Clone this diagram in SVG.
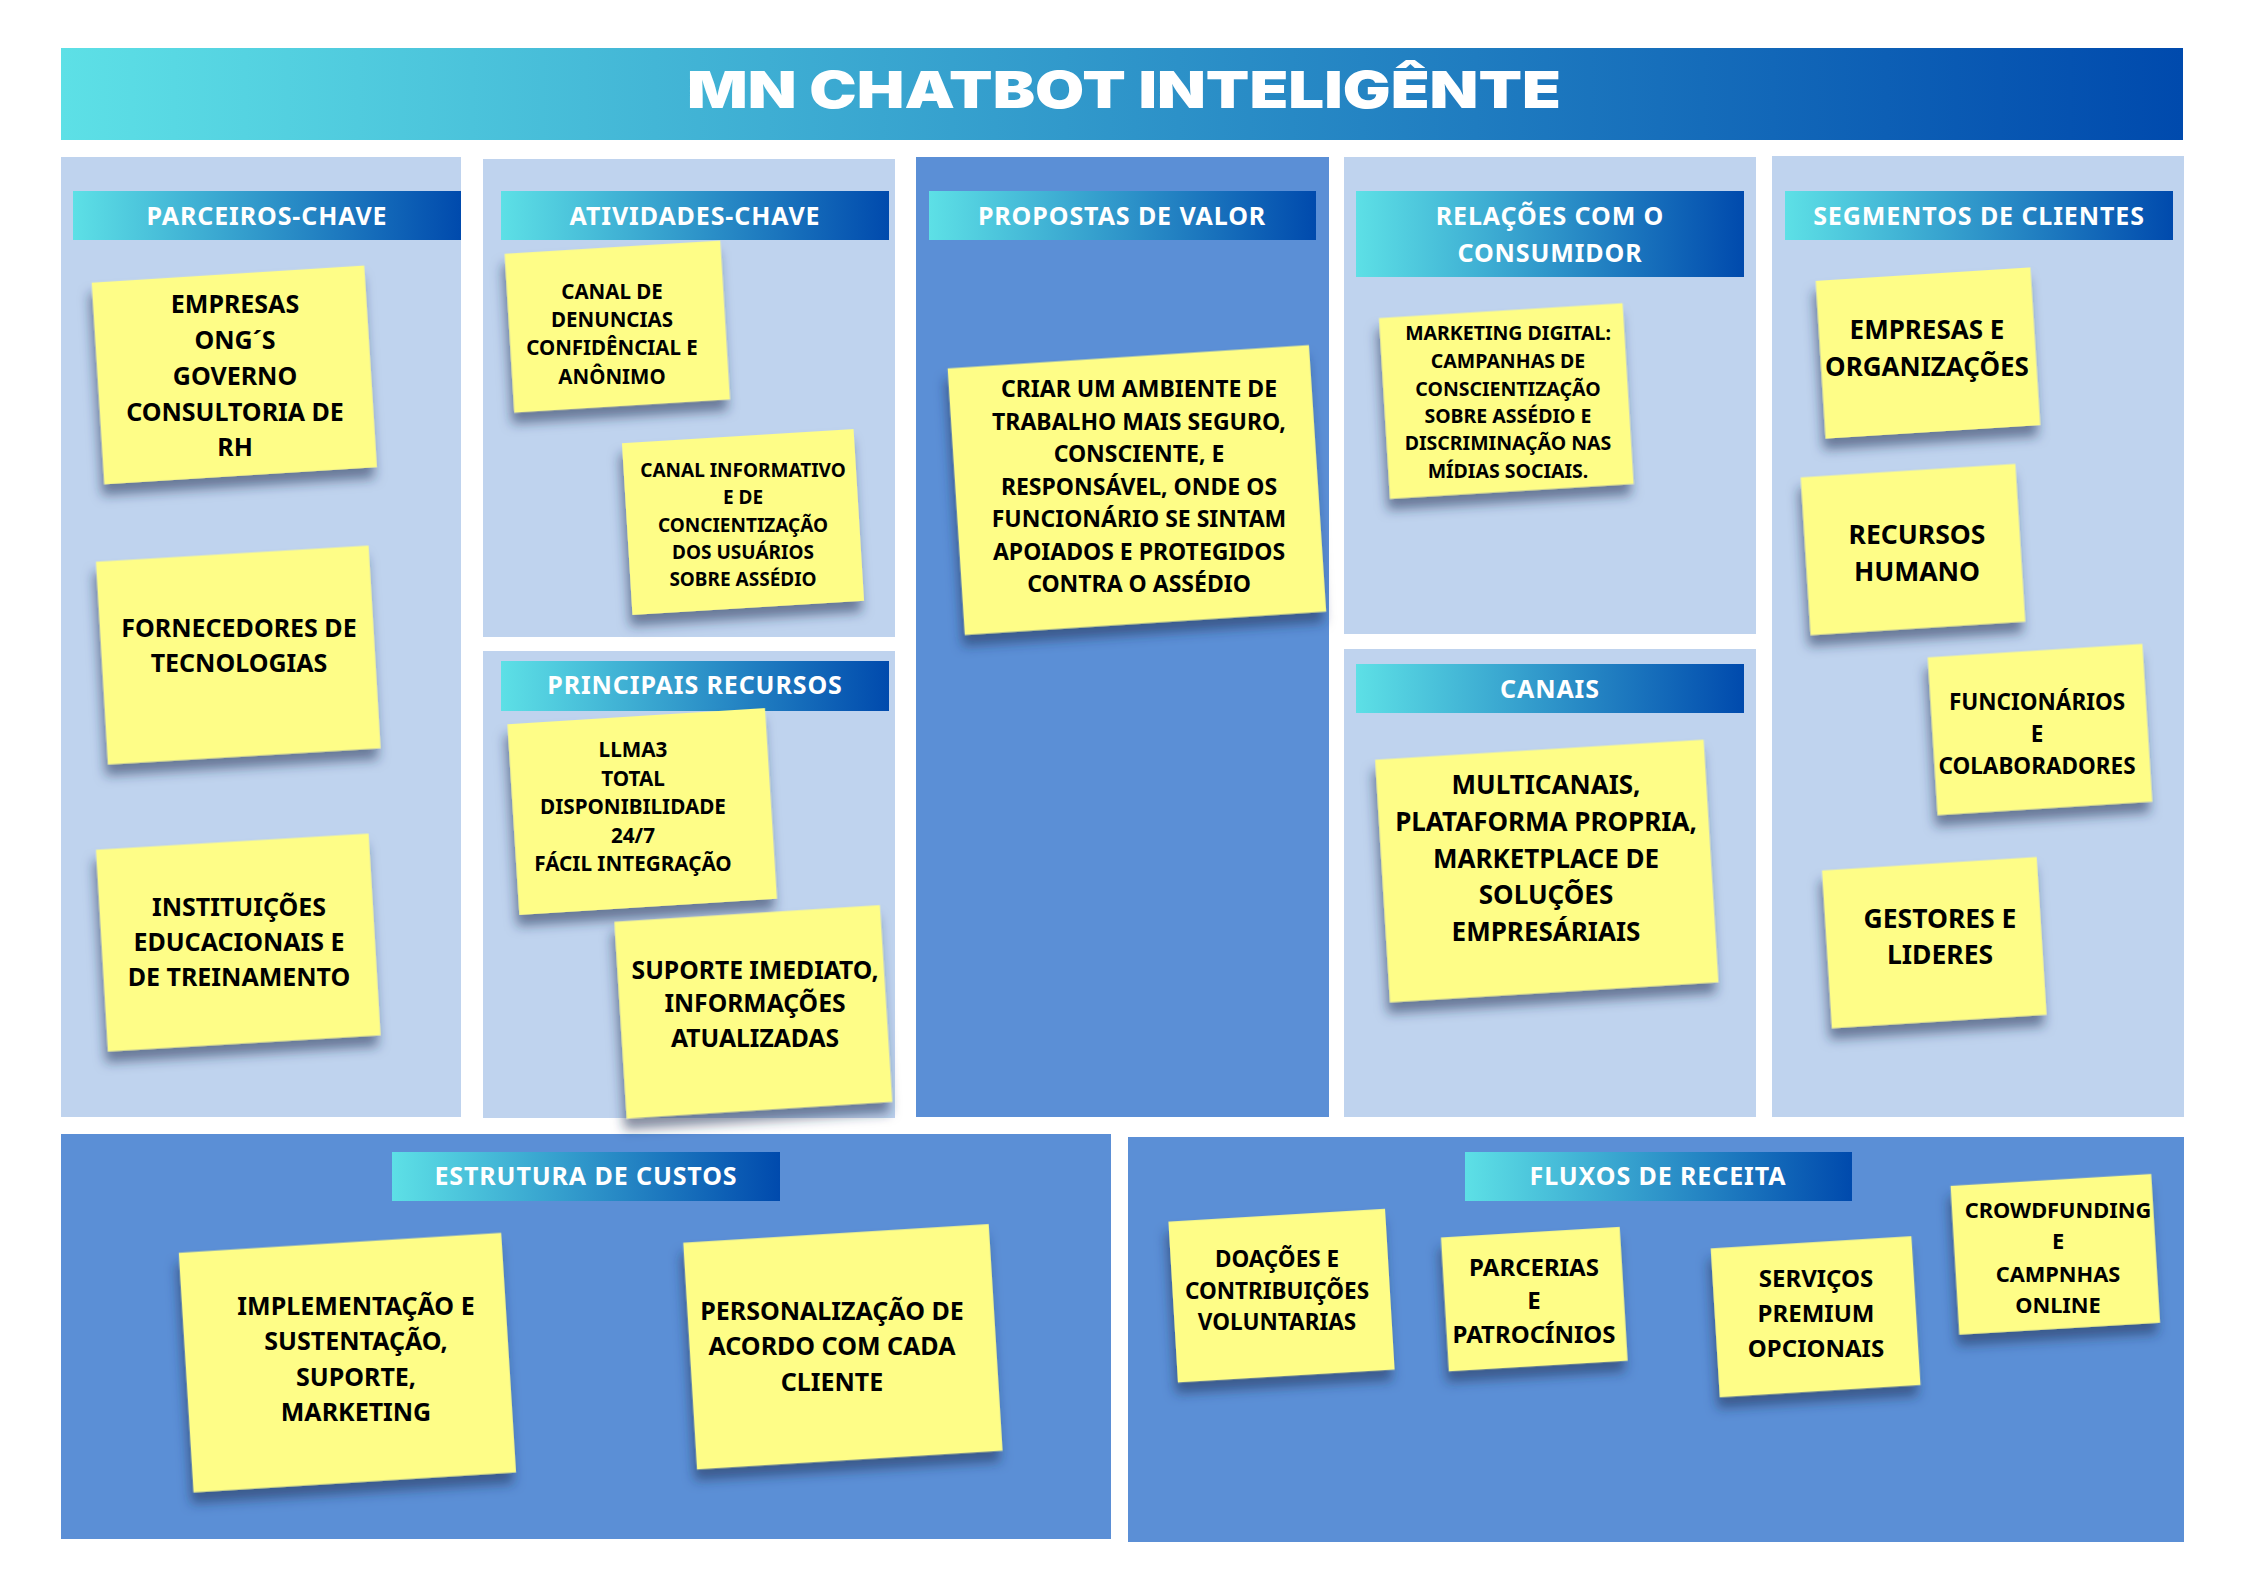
<svg xmlns="http://www.w3.org/2000/svg" width="2245" height="1587" viewBox="0 0 2245 1587">
  <defs>
    <linearGradient id="band" x1="0" y1="0" x2="1" y2="0">
      <stop offset="0" stop-color="#5de0e6"/>
      <stop offset="1" stop-color="#004aad"/>
    </linearGradient>
    <filter id="noteShadow" x="-20%" y="-20%" width="140%" height="150%">
      <feDropShadow dx="-3" dy="11" stdDeviation="6" flood-color="#1e2f52" flood-opacity="0.55"/>
    </filter>
  </defs>
  <style>
    .light { fill: #bfd3ee; }
    .dark { fill: #5b8fd6; }
    .band { fill: url(#band); }
    .head { font-family: "Noto Sans", "Open Sans", "DejaVu Sans", sans-serif; font-weight: 700; font-size: 25px; fill: #ffffff; text-anchor: middle; letter-spacing: 0.9px; }
    .title { font-family: Inter, "DejaVu Sans", sans-serif; font-weight: 900; font-size: 51px; fill: #ffffff; text-anchor: middle; }
    .note { fill: #fefd87; filter: url(#noteShadow); }
    .txt { font-family: "Noto Sans", "Open Sans", "DejaVu Sans", sans-serif; font-weight: 700; fill: #000000; text-anchor: middle; }
  </style>

  <rect width="2245" height="1587" fill="#ffffff"/>

  <!-- title banner -->
  <g id="title">
    <rect class="band" x="61" y="48" width="2122" height="92"/>
    <text class="title" x="1124" y="108" textLength="874" lengthAdjust="spacingAndGlyphs">MN CHATBOT INTELIGÊNTE</text>
  </g>

  <!-- canvas blocks -->
  <g id="panels">
    <rect class="light" x="61" y="157" width="400" height="960"/>
    <rect class="light" x="483" y="159" width="412" height="478"/>
    <rect class="light" x="483" y="651" width="412" height="467"/>
    <rect class="dark" x="916" y="157" width="413" height="960"/>
    <rect class="light" x="1344" y="157" width="412" height="477"/>
    <rect class="light" x="1344" y="649" width="412" height="468"/>
    <rect class="light" x="1772" y="156" width="412" height="961"/>
    <rect class="dark" x="61" y="1134" width="1050" height="405"/>
    <rect class="dark" x="1128" y="1137" width="1056" height="405"/>
  </g>

  <!-- block headers -->
  <g id="headers">
    <g id="h-parceiros"><rect class="band" x="73" y="191" width="388" height="49"/><text class="head" x="267" y="225">PARCEIROS-CHAVE</text></g>
    <g id="h-atividades"><rect class="band" x="501" y="191" width="388" height="49"/><text class="head" x="695" y="225">ATIVIDADES-CHAVE</text></g>
    <g id="h-propostas"><rect class="band" x="929" y="191" width="387" height="49"/><text class="head" x="1122" y="225">PROPOSTAS DE VALOR</text></g>
    <g id="h-relacoes"><rect class="band" x="1356" y="191" width="388" height="86"/><text class="head" x="1550" y="225">RELAÇÕES COM O</text><text class="head" x="1550" y="262">CONSUMIDOR</text></g>
    <g id="h-segmentos"><rect class="band" x="1785" y="191" width="388" height="49"/><text class="head" x="1979" y="225">SEGMENTOS DE CLIENTES</text></g>
    <g id="h-recursos"><rect class="band" x="501" y="661" width="388" height="50"/><text class="head" x="695" y="694">PRINCIPAIS RECURSOS</text></g>
    <g id="h-canais"><rect class="band" x="1356" y="664" width="388" height="49"/><text class="head" x="1550" y="698">CANAIS</text></g>
    <g id="h-custos"><rect class="band" x="392" y="1152" width="388" height="49"/><text class="head" x="586" y="1185">ESTRUTURA DE CUSTOS</text></g>
    <g id="h-receita"><rect class="band" x="1465" y="1152" width="387" height="49"/><text class="head" x="1658" y="1185">FLUXOS DE RECEITA</text></g>
  </g>

  <!-- sticky notes -->
  <g id="p1">
    <rect class="note" x="97.8" y="273.9" width="273" height="202" transform="rotate(-3.6 234.3 374.9)"/>
    <g class="txt" font-size="25">
      <text x="235" y="313">EMPRESAS</text>
      <text x="235" y="349">ONG´S</text>
      <text x="235" y="385">GOVERNO</text>
      <text x="235" y="421">CONSULTORIA DE</text>
      <text x="235" y="456">RH</text>
    </g>
  </g>
  <g id="p2">
    <rect class="note" x="101.8" y="553.5" width="273" height="203" transform="rotate(-3.4 238.3 655)"/>
    <g class="txt" font-size="25">
      <text x="239" y="637">FORNECEDORES DE</text>
      <text x="239" y="672">TECNOLOGIAS</text>
    </g>
  </g>
  <g id="p3">
    <rect class="note" x="101.8" y="841.5" width="273" height="202" transform="rotate(-3.4 238.3 942.5)"/>
    <g class="txt" font-size="25">
      <text x="239" y="916">INSTITUIÇÕES</text>
      <text x="239" y="951">EDUCACIONAIS E</text>
      <text x="239" y="986">DE TREINAMENTO</text>
    </g>
  </g>

  <g id="a1">
    <rect class="note" x="509.3" y="247.1" width="216" height="159" transform="rotate(-3.5 617.3 326.6)"/>
    <g class="txt" font-size="20.5">
      <text x="612" y="298.5">CANAL DE</text>
      <text x="612" y="327">DENUNCIAS</text>
      <text x="612" y="355">CONFIDÊNCIAL E</text>
      <text x="612" y="383.5">ANÔNIMO</text>
    </g>
  </g>
  <g id="a2">
    <rect class="note" x="627" y="436" width="232" height="172" transform="rotate(-3.5 743 522)"/>
    <g class="txt" font-size="19">
      <text x="743" y="477">CANAL INFORMATIVO</text>
      <text x="743" y="504">E DE</text>
      <text x="743" y="532">CONCIENTIZAÇÃO</text>
      <text x="743" y="559">DOS USUÁRIOS</text>
      <text x="743" y="586">SOBRE ASSÉDIO</text>
    </g>
  </g>

  <g id="pr1">
    <rect class="note" x="513.2" y="716" width="258" height="191" transform="rotate(-3.6 642.2 811.5)"/>
    <g class="txt" font-size="20.7">
      <text x="633" y="757">LLMA3</text>
      <text x="633" y="786">TOTAL</text>
      <text x="633" y="814">DISPONIBILIDADE</text>
      <text x="633" y="843">24/7</text>
      <text x="633" y="871">FÁCIL INTEGRAÇÃO</text>
    </g>
  </g>
  <g id="pr2">
    <rect class="note" x="620.3" y="913.3" width="266" height="197" transform="rotate(-3.6 753.3 1011.8)"/>
    <g class="txt" font-size="24.7">
      <text x="755" y="979">SUPORTE IMEDIATO,</text>
      <text x="755" y="1012">INFORMAÇÕES</text>
      <text x="755" y="1047">ATUALIZADAS</text>
    </g>
  </g>

  <g id="v1">
    <rect class="note" x="955.9" y="356.5" width="362" height="267" transform="rotate(-3.7 1136.9 490)"/>
    <g class="txt" font-size="23">
      <text x="1139" y="397">CRIAR UM AMBIENTE DE</text>
      <text x="1139" y="429.5">TRABALHO MAIS SEGURO,</text>
      <text x="1139" y="462">CONSCIENTE, E</text>
      <text x="1139" y="494.5">RESPONSÁVEL, ONDE OS</text>
      <text x="1139" y="527">FUNCIONÁRIO SE SINTAM</text>
      <text x="1139" y="559.5">APOIADOS E PROTEGIDOS</text>
      <text x="1139" y="592">CONTRA O ASSÉDIO</text>
    </g>
  </g>

  <g id="r1">
    <rect class="note" x="1384.3" y="310.5" width="244" height="181" transform="rotate(-3.5 1506.3 401)"/>
    <g class="txt" font-size="19.5">
      <text x="1508" y="340">MARKETING DIGITAL:</text>
      <text x="1508" y="368">CAMPANHAS DE</text>
      <text x="1508" y="395.5">CONSCIENTIZAÇÃO</text>
      <text x="1508" y="423">SOBRE ASSÉDIO E</text>
      <text x="1508" y="450">DISCRIMINAÇÃO NAS</text>
      <text x="1508" y="477.5">MÍDIAS SOCIAIS.</text>
    </g>
  </g>

  <g id="c1">
    <rect class="note" x="1382.3" y="749.5" width="329" height="243" transform="rotate(-3.5 1546.8 871)"/>
    <g class="txt" font-size="26">
      <text x="1546" y="794">MULTICANAIS,</text>
      <text x="1546" y="831">PLATAFORMA PROPRIA,</text>
      <text x="1546" y="868">MARKETPLACE DE</text>
      <text x="1546" y="904">SOLUÇÕES</text>
      <text x="1546" y="941">EMPRESÁRIAIS</text>
    </g>
  </g>

  <g id="s1">
    <rect class="note" x="1820.5" y="274" width="215" height="158" transform="rotate(-3.6 1928 353)"/>
    <g class="txt" font-size="26">
      <text x="1927" y="339">EMPRESAS E</text>
      <text x="1927" y="376">ORGANIZAÇÕES</text>
    </g>
  </g>
  <g id="s2">
    <rect class="note" x="1805.5" y="470.5" width="215" height="158" transform="rotate(-3.6 1913 549.5)"/>
    <g class="txt" font-size="26.5">
      <text x="1917" y="544">RECURSOS</text>
      <text x="1917" y="581">HUMANO</text>
    </g>
  </g>
  <g id="s3">
    <rect class="note" x="1932.5" y="650.5" width="215" height="158" transform="rotate(-3.6 2040 729.5)"/>
    <g class="txt" font-size="22.5">
      <text x="2037" y="709.5">FUNCIONÁRIOS</text>
      <text x="2037" y="741.5">E</text>
      <text x="2037" y="773.5">COLABORADORES</text>
    </g>
  </g>
  <g id="s4">
    <rect class="note" x="1826.8" y="863.6" width="215" height="158" transform="rotate(-3.6 1934.3 942.6)"/>
    <g class="txt" font-size="26.5">
      <text x="1940" y="928">GESTORES E</text>
      <text x="1940" y="964">LIDERES</text>
    </g>
  </g>

  <g id="e1">
    <rect class="note" x="185.9" y="1242.6" width="323" height="240" transform="rotate(-3.55 347.4 1362.6)"/>
    <g class="txt" font-size="25">
      <text x="356" y="1315">IMPLEMENTAÇÃO E</text>
      <text x="356" y="1350">SUSTENTAÇÃO,</text>
      <text x="356" y="1386">SUPORTE,</text>
      <text x="356" y="1421">MARKETING</text>
    </g>
  </g>
  <g id="e2">
    <rect class="note" x="689.9" y="1233.2" width="306" height="227" transform="rotate(-3.5 842.9 1346.7)"/>
    <g class="txt" font-size="25">
      <text x="832" y="1320">PERSONALIZAÇÃO DE</text>
      <text x="832" y="1355">ACORDO COM CADA</text>
      <text x="832" y="1391">CLIENTE</text>
    </g>
  </g>

  <g id="f1">
    <rect class="note" x="1173" y="1215.1" width="217" height="161" transform="rotate(-3.4 1281.5 1295.6)"/>
    <g class="txt" font-size="22.5">
      <text x="1277" y="1267">DOAÇÕES E</text>
      <text x="1277" y="1299">CONTRIBUIÇÕES</text>
      <text x="1277" y="1330">VOLUNTARIAS</text>
    </g>
  </g>
  <g id="f2">
    <rect class="note" x="1444.8" y="1232.1" width="179" height="134" transform="rotate(-3.4 1534.3 1299.1)"/>
    <g class="txt" font-size="24">
      <text x="1534" y="1276">PARCERIAS</text>
      <text x="1534" y="1309">E</text>
      <text x="1534" y="1343">PATROCÍNIOS</text>
    </g>
  </g>
  <g id="f3">
    <rect class="note" x="1715.1" y="1242.2" width="201" height="149" transform="rotate(-3.5 1815.6 1316.7)"/>
    <g class="txt" font-size="24">
      <text x="1816" y="1287">SERVIÇOS</text>
      <text x="1816" y="1322">PREMIUM</text>
      <text x="1816" y="1357">OPCIONAIS</text>
    </g>
  </g>
  <g id="f4">
    <rect class="note" x="1954.8" y="1179.8" width="201" height="149" transform="rotate(-3.4 2055.3 1254.3)"/>
    <g class="txt" font-size="21.8">
      <text x="2058" y="1218">CROWDFUNDING</text>
      <text x="2058" y="1249">E</text>
      <text x="2058" y="1282">CAMPNHAS</text>
      <text x="2058" y="1313">ONLINE</text>
    </g>
  </g>

  <g id="connectors"/>
</svg>
